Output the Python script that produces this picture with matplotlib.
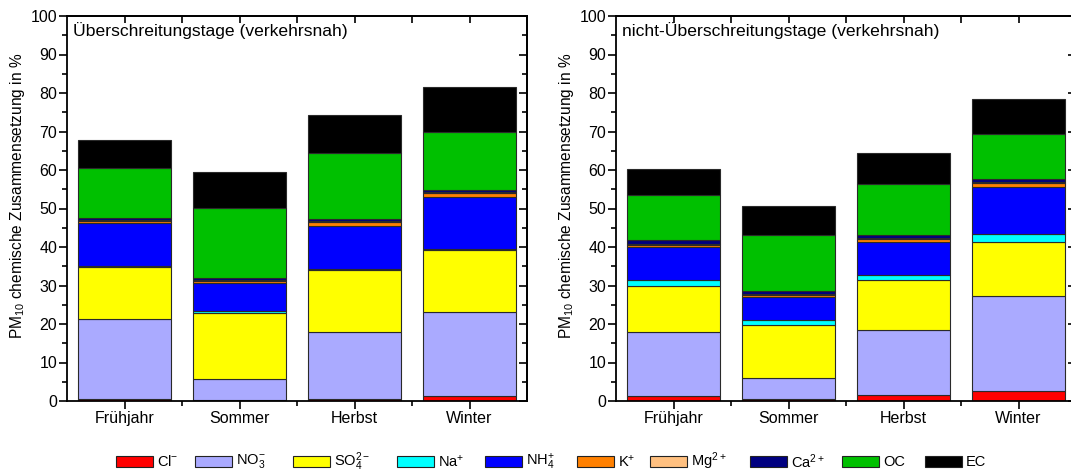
import numpy as np
import matplotlib
matplotlib.use("Agg")
import matplotlib.pyplot as plt
from matplotlib.patches import Rectangle
from matplotlib.ticker import MultipleLocator, FixedLocator, NullFormatter
from matplotlib import font_manager

plt.rcParams['font.family'] = ['Liberation Sans', 'DejaVu Sans']
plt.rcParams['mathtext.default'] = 'regular'

names = {f.name for f in font_manager.fontManager.ttflist}
narrow = 'Liberation Sans Narrow' if 'Liberation Sans Narrow' in names else 'Liberation Sans'

seasons = ['Frühjahr', 'Sommer', 'Herbst', 'Winter']
species = ['Cl$^{-}$', 'NO$_3^{-}$', 'SO$_4^{2-}$', 'Na$^{+}$', 'NH$_4^{+}$',
           'K$^{+}$', 'Mg$^{2+}$', 'Ca$^{2+}$', 'OC', 'EC']
colors = ['#FF0000', '#AAAAFF', '#FFFF00', '#00FFFF', '#0000FF',
          '#FF8000', '#FFC080', '#000080', '#00C000', '#000000']

# Überschreitungstage (verkehrsnah), Anteile in %
ue_cl = [0.5, 0.2, 0.5, 1.2]
ue_no3 = [20.7, 5.4, 17.4, 21.8]
ue_so4 = [13.5, 17.3, 16.1, 16.2]
ue_na = [0.4, 0.4, 0.4, 0.4]
ue_nh4 = [11.2, 7.3, 11.1, 13.5]
ue_k = [0.5, 0.5, 1.0, 1.0]
ue_mg = [0.2, 0.2, 0.2, 0.2]
ue_ca = [0.6, 0.6, 0.5, 0.5]
ue_oc = [12.8, 18.3, 17.3, 15.1]
ue_ec = [7.4, 9.2, 9.7, 11.6]

# nicht-Überschreitungstage (verkehrsnah), Anteile in %
nu_cl = [1.2, 0.4, 1.6, 2.7]
nu_no3 = [16.8, 5.7, 16.8, 24.7]
nu_so4 = [12.0, 13.7, 12.9, 14.0]
nu_na = [1.3, 1.3, 1.5, 1.9]
nu_nh4 = [8.7, 5.9, 8.6, 12.4]
nu_k = [0.5, 0.6, 0.7, 1.0]
nu_mg = [0.3, 0.3, 0.2, 0.2]
nu_ca = [0.9, 0.8, 0.8, 0.7]
nu_oc = [11.9, 14.3, 13.2, 11.8]
nu_ec = [6.6, 7.6, 8.0, 9.0]

panels = [
    ('Überschreitungstage (verkehrsnah)',
     [ue_cl, ue_no3, ue_so4, ue_na, ue_nh4, ue_k, ue_mg, ue_ca, ue_oc, ue_ec]),
    ('nicht-Überschreitungstage (verkehrsnah)',
     [nu_cl, nu_no3, nu_so4, nu_na, nu_nh4, nu_k, nu_mg, nu_ca, nu_oc, nu_ec]),
]

W, H = 1071, 474
fig = plt.figure(figsize=(W / 100, H / 100), dpi=100)

ax_left_px = [67, 616]
ax_w_px, ax_bottom_px, ax_h_px = 460, 401, 385

x = np.arange(1, len(seasons) + 1)
tick_fs = 11.5

for (title, comps), lpx in zip(panels, ax_left_px):
    ax = fig.add_axes([lpx / W, (H - ax_bottom_px) / H, ax_w_px / W, ax_h_px / H])
    bottom = np.zeros(len(seasons))
    for vals, col in zip(comps, colors):
        vals = np.asarray(vals)
        ax.bar(x, vals, width=0.81, bottom=bottom, color=col,
               edgecolor='#2a2a2a', linewidth=0.8, zorder=2)
        bottom += vals

    ax.set_xlim(0.5, 4.5)
    ax.set_ylim(0, 100)
    for sp in ax.spines.values():
        sp.set_linewidth(1.3)
        sp.set_zorder(5)

    ax.set_xticks(x)
    ax.set_xticklabels(seasons)
    ax.xaxis.set_minor_locator(FixedLocator([1.5, 2.5, 3.5]))
    ax.yaxis.set_major_locator(MultipleLocator(10))
    ax.yaxis.set_minor_locator(MultipleLocator(5))
    ax.tick_params(axis='both', which='major', direction='out', length=6,
                   width=1.2, labelsize=tick_fs, pad=1)
    ax.tick_params(axis='both', which='minor', direction='out', length=3.5,
                   width=1.2)
    ax.tick_params(top=False, right=False, which='both')

    top = ax.secondary_xaxis('top')
    top.set_xticks(x)
    top.xaxis.set_minor_locator(FixedLocator([1.5, 2.5, 3.5]))
    top.tick_params(which='both', direction='in', length=5, width=1.2,
                    labeltop=False)
    top.xaxis.set_major_formatter(NullFormatter())
    top.spines['top'].set_linewidth(1.3)

    right = ax.secondary_yaxis('right')
    right.yaxis.set_major_locator(MultipleLocator(10))
    right.yaxis.set_minor_locator(MultipleLocator(5))
    right.tick_params(which='major', direction='in', length=6, width=1.2,
                      labelright=False)
    right.tick_params(which='minor', direction='in', length=3.5, width=1.2)
    right.yaxis.set_major_formatter(NullFormatter())
    right.spines['right'].set_linewidth(1.3)

    ax.set_ylabel('PM$_{10}$ chemische Zusammensetzung in %', fontsize=11.2)
    ax.yaxis.set_label_coords(-0.087, 0.532)
    ax.text(0.013, 0.985, title, transform=ax.transAxes, ha='left', va='top',
            fontsize=12.6)

# legend row beneath the panels
leg_x_px = [116, 195, 293, 397, 485, 577, 650, 750, 842, 925]
rect_w_px, rect_h_px, rect_y_px = 37, 11, 456
for lx, col, lab in zip(leg_x_px, colors, species):
    fig.patches.append(Rectangle((lx / W, (H - rect_y_px - rect_h_px) / H),
                                 rect_w_px / W, rect_h_px / H,
                                 transform=fig.transFigure, facecolor=col,
                                 edgecolor='#222222', linewidth=0.8))
    fig.text((lx + rect_w_px + 4) / W, (H - rect_y_px - rect_h_px / 2) / H, lab,
             ha='left', va='center', fontsize=10.5, family=narrow)

fig.savefig('out.png', dpi=100)
